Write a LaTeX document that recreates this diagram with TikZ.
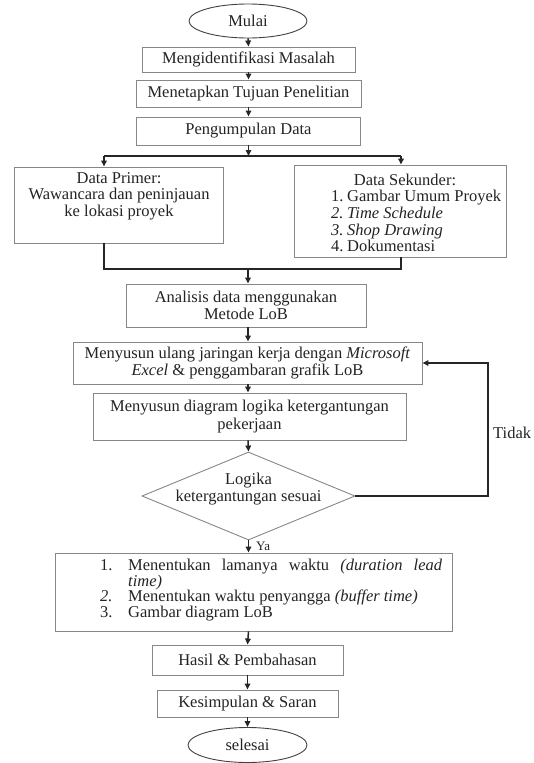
\documentclass[tikz,border=0pt]{standalone}
\usepackage{fontspec}
\setmainfont{Liberation Serif}
\usetikzlibrary{arrows.meta,shapes.geometric,calc}
\definecolor{boxgray}{RGB}{135,135,135}
\definecolor{txt}{RGB}{35,35,35}
\begin{document}
\begin{tikzpicture}[x=1pt,y=-1pt,
  every node/.style={text=txt, font=\fontsize{16.5}{16.7}\selectfont},
  box/.style={draw=boxgray, line width=0.9pt, rectangle, inner sep=0pt, align=center},
  ell/.style={draw=black!75, line width=0.9pt, ellipse, inner sep=0pt},
  conn/.style={draw=black!85, line width=1.5pt},
  arr/.style={conn, -{Triangle[length=6pt,width=5.5pt]}},
  plain/.style={inner sep=0pt, align=center}]
\useasboundingbox (0,0) rectangle (533,763);

\node[ell, minimum width=118pt, minimum height=34pt] (mulai) at (248,21) {Mulai};
\node[box, minimum width=213pt, minimum height=25pt] (b1) at (248.5,59.5) {Mengidentifikasi Masalah};
\node[box, minimum width=225pt, minimum height=27pt] (b2) at (248.5,93.5) {Menetapkan Tujuan Penelitian};
\node[box, minimum width=224pt, minimum height=28pt] (b3) at (248.5,131) {Pengumpulan Data};

\node[box, minimum width=209pt, minimum height=76pt] (primer) at (118.5,205) {};
\node[plain, anchor=north] (primert) at (119,172) {Data Primer:\\Wawancara dan peninjauan\\ke lokasi proyek};

\node[box, minimum width=212pt, minimum height=92pt] (sekunder) at (400,211) {};
\node[plain] (sekt) at (405,180) {Data Sekunder:};
\node[plain, anchor=north west, align=left] (sekl) at (331,190)
  {\makebox[16pt][l]{1.}Gambar Umum Proyek\\
   \textit{\makebox[16pt][l]{2.}Time Schedule}\\
   \textit{\makebox[16pt][l]{3.}Shop Drawing}\\
   \makebox[16pt][l]{4.}Dokumentasi};

\node[box, minimum width=240pt, minimum height=43pt] (analisis) at (246,305.5) {Analisis data menggunakan\\Metode LoB};
\node[box, minimum width=349pt, minimum height=42pt] (ulang) at (247.5,363) {Menyusun ulang jaringan kerja dengan \textit{Microsoft}\\\textit{Excel} \& penggambaran grafik LoB};
\node[box, minimum width=313pt, minimum height=47pt] (diag) at (249.5,416.5) {Menyusun diagram logika ketergantungan\\[1pt]pekerjaan};

\node[diamond, draw=boxgray, line width=0.9pt, minimum width=213pt, minimum height=88pt, inner sep=0pt] (dia) at (248.5,496) {};
\node[plain] (diat) at (248.5,489) {Logika\\ketergantungan sesuai};

\node[box, minimum width=397pt, minimum height=78pt] (list) at (253.5,592) {};
\node[plain, anchor=north west, align=left, font=\fontsize{16.5}{15.5}\selectfont] (listt) at (100,559)
  {\makebox[28pt][l]{1.}\hbox to 314pt{Menentukan\hfill lamanya\hfill waktu\hfill \textit{(duration\hfill lead}}\\
   \makebox[28pt][l]{}\textit{time)}\\
   \makebox[28pt][l]{\textit{2.}}Menentukan waktu penyangga \textit{(buffer time)}\\
   \makebox[28pt][l]{3.}Gambar diagram LoB};

\node[box, minimum width=191pt, minimum height=30pt] (hasil) at (247.5,660) {Hasil \& Pembahasan};
\node[box, minimum width=181pt, minimum height=27pt] (kesim) at (247.5,703.5) {Kesimpulan \& Saran};
\node[ell, minimum width=119pt, minimum height=35pt] (selesai) at (247.5,745) {selesai};

% connectors
\draw[arr] (mulai.south) -- (b1.north);
\draw[arr] (b1.south) -- (b2.north);
\draw[arr] (b2.south) -- (b3.north);
\coordinate (bm) at (248.5,156);
\coordinate (bl) at (104,156);
\coordinate (brr) at (401,156);
\draw[arr] (b3.south) -- (bm);
\draw[conn] (bl) -- (brr);
\draw[arr] (bl) -- (bl |- primer.north);
\draw[arr] (brr) -- (brr |- sekunder.north);
\coordinate (jl) at (104,269);
\coordinate (jr) at (401,269);
\coordinate (jm) at (248,269);
\draw[conn] (jl |- primer.south) -- (jl) -- (jr) -- (jr |- sekunder.south);
\draw[arr] (jm) -- (jm |- analisis.north);
\draw[arr] (jm |- analisis.south) -- (jm |- ulang.north);
\draw[arr] (jm |- ulang.south) -- (jm |- diag.north);
\draw[arr] (jm |- diag.south) -- (dia.north);
\coordinate (tk) at (488,496);
\draw[arr] (dia.east) -- (tk) |- (ulang.east);
\node[plain, anchor=west] (tidak) at (493,433) {Tidak};
\draw[arr] (dia.south) -- (dia.south |- list.north);
\node[plain, anchor=west] (ya) at (256,546) {\fontsize{13}{14}\selectfont Ya};
\draw[arr] (dia.south |- list.south) -- (hasil.north);
\draw[arr] (hasil.south) -- (kesim.north);
\draw[arr] (kesim.south) -- (selesai.north);
\end{tikzpicture}
\end{document}
